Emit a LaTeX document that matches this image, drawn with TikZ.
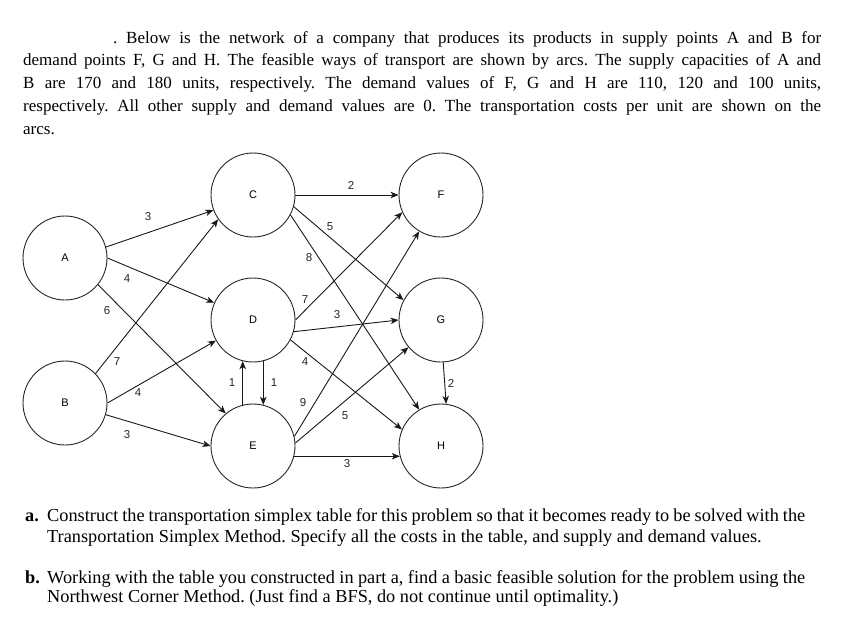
\documentclass[tikz,border=0pt]{standalone}
\usepackage{fontspec}
\setmainfont{Liberation Serif}
\newfontfamily\lsans{Liberation Sans}
\usetikzlibrary{arrows.meta}
\frenchspacing
\begin{document}
\begin{tikzpicture}[x=1pt,y=-1pt,
  circ/.style={circle, draw=black!85, line width=0.9pt, minimum size=84pt, inner sep=0pt, font=\lsans\fontsize{11}{13}\selectfont},
  arc/.style={-{Stealth[length=8pt,width=6.5pt,inset=2.2pt]}, line width=0.9pt, draw=black!90},
  lbl/.style={font=\lsans\fontsize{11.5}{13}\selectfont, inner sep=0pt, text=black!85},
  toptxt/.style={anchor=base west, inner sep=0pt, font=\fontsize{17}{20}\selectfont},
  bottxt/.style={anchor=base west, inner sep=0pt, font=\fontsize{18.3}{20}\selectfont}]
\useasboundingbox (0,0) rectangle (846,638);
% top text
\node[toptxt] (t1) at (113,43) {\makebox[708pt][s]{. Below is the network of a company that produces its products in supply points A and B for}};
\node[toptxt] (t2) at (23,65) {\makebox[798pt][s]{demand points F, G and H. The feasible ways of transport are shown by arcs. The supply capacities of A and}};
\node[toptxt] (t3) at (23,88) {\makebox[798pt][s]{B are 170 and 180 units, respectively. The demand values of F, G and H are 110, 120 and 100 units,}};
\node[toptxt] (t4) at (23,111) {\makebox[798pt][s]{respectively. All other supply and demand values are 0. The transportation costs per unit are shown on the}};
\node[toptxt] (t5) at (23,134) {arcs.};
% nodes
\node[circ] (A) at (65,258) {A};
\node[circ] (B) at (65,403) {B};
\node[circ] (C) at (253,195) {C};
\node[circ] (D) at (253,320) {D};
\node[circ] (E) at (253,446) {E};
\node[circ] (F) at (441,195) {F};
\node[circ] (G) at (441,320) {G};
\node[circ] (H) at (441,446) {H};
% arcs
\draw[arc] (A.15) -- (C.201);
\draw[arc] (A.0) -- (D.156);
\draw[arc] (A.-39) -- (E.130);
\draw[arc] (B.44) -- (C.215);
\draw[arc] (B.0) -- (D.209);
\draw[arc] (B.-16) -- (E.180);
\draw[arc] (C.0) -- (F.180);
\draw[arc] (C.-16) -- (G.152);
\draw[arc] (C.-28) -- (H.121);
\draw[arc] (D.0) -- (F.204);
\draw[arc] (D.-16) -- (G.180);
\draw[arc] (D.-28) -- (H.157);
\draw[arc] (E.13) -- (F.239);
\draw[arc] (E.4) -- (G.220);
\draw[arc] (E.-14) -- (H.194);
\draw[arc] (G.-87) -- (H.83);
\draw[arc] (E.104) -- (D.256);
\draw[arc] (D.284) -- (E.76);
% labels
\node[lbl] (lAC) at (148,217) {3};
\node[lbl] (lAD) at (127,279) {4};
\node[lbl] (lAE) at (107,311) {6};
\node[lbl] (lBC) at (117,362) {7};
\node[lbl] (lBD) at (138,393) {4};
\node[lbl] (lBE) at (127,435) {3};
\node[lbl] (lED) at (232,383) {1};
\node[lbl] (lDE) at (274,383) {1};
\node[lbl] (lCF) at (351,185) {2};
\node[lbl] (lCG) at (330,227) {5};
\node[lbl] (lCH) at (309,258) {8};
\node[lbl] (lDF) at (305,300) {7};
\node[lbl] (lDG) at (337,315) {3};
\node[lbl] (lDH) at (305,362) {4};
\node[lbl] (lEF) at (303,403) {9};
\node[lbl] (lEG) at (345,416) {5};
\node[lbl] (lEH) at (347,464) {3};
\node[lbl] (lGH) at (451,383) {2};
% bottom text
\node[bottxt] (a) at (25,521) {\bfseries a.};
\node[bottxt] (a1) at (47,521) {\makebox[758pt][s]{Construct the transportation simplex table for this problem so that it becomes ready to be solved with the}};
\node[bottxt] (a2) at (47,542) {Transportation Simplex Method. Specify all the costs in the table, and supply and demand values.};
\node[bottxt] (b) at (25,583) {\bfseries b.};
\node[bottxt] (b1) at (47,583) {\makebox[758pt][s]{Working with the table you constructed in part a, find a basic feasible solution for the problem using the}};
\node[bottxt] (b2) at (47,602) {Northwest Corner Method. (Just find a BFS, do not continue until optimality.)};
\end{tikzpicture}
\end{document}
